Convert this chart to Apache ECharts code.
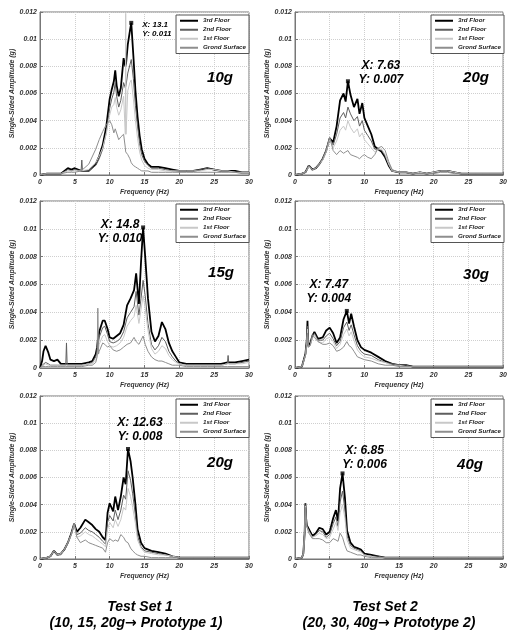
<!DOCTYPE html>
<html><head><meta charset="utf-8">
<script src="https://cdn.jsdelivr.net/npm/echarts@6/dist/echarts.min.js"></script>
<style>html,body{margin:0;padding:0;background:#fff}#c{width:510px;height:632px}</style>
</head><body><div id="c"></div>
<script>
// ---------- tick labels / categories ----------
const seriesNames = ['3rd Floor', '2nd Floor', '1st Floor', 'Grond Surface'];
const panelTitles = ['10g', '20g', '15g', '30g', '20g', '40g'];
const xTicks = [0, 5, 10, 15, 20, 25, 30];
const yTicks = [0, 0.002, 0.004, 0.006, 0.008, 0.01, 0.012];
const peakX = [13.1, 7.63, 14.8, 7.47, 12.63, 6.85];
const peakY = [0.0112, 0.0069, 0.0101, 0.0041, 0.0081, 0.0063];

// ---------- Panel A : Test Set 1, 10g ----------
const freqA = [0,1,2,3,4,4.5,5,5.9,6,6.1,7,8,8.5,9,9.5,10,10.3,10.6,10.8,11,11.3,11.6,12,12.25,12.3,12.35,12.6,12.9,13.1,13.4,13.7,14,14.3,14.6,15,15.5,16,17,18,19,20,21,22,23,24,25,26,27,28,29,30];
const thirdA = [0,0.0001,0.0001,0.0001,0.0005,0.0004,0.0005,0.0003,0.0004,0.0003,0.0003,0.0008,0.0014,0.0022,0.0035,0.0056,0.0063,0.0069,0.0077,0.0066,0.0058,0.0064,0.0086,0.0080,0.0079,0.0082,0.0096,0.0106,0.0112,0.0088,0.0062,0.0043,0.0029,0.0019,0.0012,0.0008,0.0006,0.0006,0.0005,0.0004,0.0003,0.0003,0.0003,0.0004,0.0005,0.0004,0.0003,0.0003,0.0003,0.0002,0.0002];
const secondA = [0,0.0001,0.0001,0.0001,0.0004,0.0003,0.0004,0.0003,0.0011,0.0003,0.0003,0.0007,0.0012,0.0019,0.0031,0.0049,0.0056,0.0061,0.0068,0.0058,0.0050,0.0055,0.0068,0.0064,0.0063,0.0066,0.0075,0.0081,0.0085,0.0071,0.0051,0.0036,0.0023,0.0015,0.0010,0.0007,0.0005,0.0005,0.0004,0.0003,0.0003,0.0003,0.0003,0.0004,0.0005,0.0004,0.0003,0.0003,0.0002,0.0002,0.0002];
const firstA = [0,0.0001,0.0001,0.0001,0.0003,0.0003,0.0003,0.0003,0.0003,0.0003,0.0004,0.0009,0.0014,0.0020,0.0030,0.0044,0.0050,0.0052,0.0057,0.0050,0.0044,0.0048,0.0058,0.0030,0.0119,0.0030,0.0062,0.0068,0.0070,0.0056,0.0040,0.0027,0.0017,0.0011,0.0007,0.0005,0.0004,0.0004,0.0003,0.0003,0.0003,0.0003,0.0003,0.0003,0.0004,0.0004,0.0003,0.0003,0.0002,0.0002,0.0002];
const groundA = [0,0.0001,0.0001,0.0001,0.0002,0.0002,0.0002,0.0003,0.0003,0.0004,0.0008,0.0019,0.0026,0.0032,0.0037,0.0040,0.0037,0.0031,0.0034,0.0033,0.0026,0.0028,0.0030,0.0020,0.0017,0.0017,0.0015,0.0012,0.0009,0.0007,0.0006,0.0005,0.0004,0.0003,0.0003,0.0003,0.0002,0.0002,0.0002,0.0002,0.0002,0.0002,0.0002,0.0002,0.0002,0.0002,0.0002,0.0002,0.0002,0.0001,0.0001];

// ---------- Panel B : Test Set 2, 20g ----------
const freqB = [0,1,1.5,2,2.5,3,3.5,4,4.5,5,5.5,6,6.5,7,7.3,7.63,8,8.5,9,9.3,9.7,10,10.5,11,11.5,12,12.5,13,13.5,14,15,16,17,18,19,20,21,22,23,24,25,26,27,28,29,30];
const thirdB = [0,0.0001,0.0002,0.0007,0.0004,0.0005,0.0008,0.0012,0.0018,0.0027,0.0024,0.0036,0.0055,0.0060,0.0054,0.0069,0.0059,0.0050,0.0056,0.0045,0.0053,0.0042,0.0036,0.0030,0.0021,0.0019,0.0017,0.0013,0.0007,0.0003,0.0002,0.0002,0.0001,0.0002,0.0001,0.0002,0.0003,0.0003,0.0002,0.0001,0.0001,0.0001,0.0001,0.0001,0.0001,0.0001];
const secondB = [0,0.0001,0.0002,0.0007,0.0004,0.0005,0.0008,0.0012,0.0018,0.0027,0.0022,0.0030,0.0042,0.0046,0.0042,0.0050,0.0045,0.0040,0.0043,0.0036,0.0040,0.0033,0.0029,0.0025,0.0019,0.0019,0.0018,0.0014,0.0008,0.0003,0.0002,0.0002,0.0001,0.0002,0.0001,0.0002,0.0003,0.0003,0.0002,0.0001,0.0001,0.0001,0.0001,0.0001,0.0001,0.0001];
const firstB = [0,0.0001,0.0002,0.0006,0.0004,0.0005,0.0008,0.0011,0.0017,0.0026,0.0020,0.0025,0.0033,0.0036,0.0033,0.0040,0.0035,0.0031,0.0034,0.0028,0.0031,0.0026,0.0023,0.0020,0.0017,0.0019,0.0019,0.0015,0.0008,0.0003,0.0002,0.0002,0.0001,0.0002,0.0001,0.0002,0.0003,0.0003,0.0002,0.0001,0.0001,0.0001,0.0001,0.0001,0.0001,0.0001];
const groundB = [0,0.0001,0.0002,0.0007,0.0004,0.0005,0.0008,0.0012,0.0018,0.0028,0.0018,0.0015,0.0018,0.0016,0.0017,0.0018,0.0015,0.0014,0.0013,0.0012,0.0014,0.0015,0.0013,0.0012,0.0015,0.0020,0.0021,0.0018,0.0010,0.0004,0.0002,0.0002,0.0001,0.0001,0.0001,0.0001,0.0002,0.0002,0.0001,0.0001,0.0001,0.0001,0.0001,0.0001,0.0001,0.0001];

// ---------- Panel C : Test Set 1, 15g ----------
const freqC = [0,0.3,0.5,0.8,1.2,1.5,2,2.5,3,3.7,3.8,3.9,5,6,7,7.5,8,8.2,8.3,8.4,8.5,9,9.3,9.7,10,10.5,11,11.5,12,12.5,13,13.5,13.8,14.2,14.5,14.8,15.1,15.5,16,16.5,17,17.5,18,18.5,19,19.5,20,21,22,23,24,25,26,26.9,27,27.1,28,29,30];
const thirdC = [0,0.0005,0.0012,0.0016,0.0011,0.0006,0.0005,0.0006,0.0003,0.0003,0.0004,0.0003,0.0003,0.0003,0.0004,0.0005,0.0010,0.0015,0.0020,0.0022,0.0026,0.0034,0.0034,0.0028,0.0022,0.0021,0.0023,0.0025,0.0031,0.0045,0.0050,0.0056,0.0068,0.0046,0.0076,0.0101,0.0080,0.0050,0.0026,0.0019,0.0023,0.0033,0.0028,0.0018,0.0012,0.0008,0.0004,0.0003,0.0003,0.0003,0.0003,0.0003,0.0003,0.0004,0.0004,0.0004,0.0004,0.0005,0.0006];
const secondC = [0,0.0002,0.0003,0.0004,0.0003,0.0002,0.0002,0.0002,0.0002,0.0002,0.0018,0.0002,0.0002,0.0002,0.0003,0.0004,0.0008,0.0012,0.0016,0.0018,0.0022,0.0029,0.0030,0.0024,0.0019,0.0018,0.0019,0.0021,0.0026,0.0036,0.0040,0.0044,0.0055,0.0038,0.0050,0.0063,0.0052,0.0032,0.0017,0.0013,0.0016,0.0022,0.0019,0.0012,0.0008,0.0005,0.0003,0.0002,0.0002,0.0002,0.0002,0.0002,0.0002,0.0003,0.0009,0.0003,0.0003,0.0004,0.0005];
const firstC = [0,0.0001,0.0002,0.0003,0.0002,0.0002,0.0002,0.0002,0.0002,0.0002,0.0003,0.0002,0.0002,0.0002,0.0003,0.0003,0.0006,0.0009,0.0012,0.0014,0.0017,0.0023,0.0024,0.0019,0.0016,0.0015,0.0016,0.0018,0.0022,0.0030,0.0034,0.0037,0.0045,0.0032,0.0042,0.0052,0.0043,0.0027,0.0014,0.0010,0.0012,0.0016,0.0014,0.0009,0.0006,0.0004,0.0003,0.0002,0.0002,0.0002,0.0002,0.0002,0.0002,0.0003,0.0003,0.0003,0.0003,0.0003,0.0004];
const groundC = [0,0.0001,0.0001,0.0001,0.0001,0.0001,0.0001,0.0001,0.0001,0.0001,0.0001,0.0001,0.0001,0.0001,0.0002,0.0002,0.0004,0.0008,0.0043,0.0010,0.0012,0.0018,0.0017,0.0015,0.0016,0.0013,0.0012,0.0013,0.0015,0.0017,0.0018,0.0022,0.0019,0.0017,0.0020,0.0023,0.0017,0.0012,0.0008,0.0006,0.0005,0.0005,0.0004,0.0003,0.0002,0.0002,0.0002,0.0001,0.0001,0.0001,0.0001,0.0001,0.0001,0.0001,0.0001,0.0001,0.0001,0.0001,0.0001];

// ---------- Panel D : Test Set 2, 30g ----------
const freqD = [0,1,1.5,1.7,1.8,1.9,2.2,2.5,2.8,3.3,4,4.5,5,5.5,6,6.5,7,7.47,7.8,8.1,8.5,9,9.5,10,11,12,13,14,15,16,17,18,19,20,22,24,26,28,30];
const thirdD = [0,0.0001,0.0010,0.0020,0.0034,0.0016,0.0018,0.0023,0.0026,0.0021,0.0022,0.0027,0.0029,0.0025,0.0018,0.0022,0.0035,0.0041,0.0032,0.0039,0.0030,0.0020,0.0015,0.0013,0.0011,0.0008,0.0005,0.0003,0.0002,0.0002,0.0001,0.0001,0.0001,0.0001,0.0001,0.0001,0.0001,0.0001,0.0001];
const secondD = [0,0.0001,0.0010,0.0019,0.0030,0.0015,0.0017,0.0022,0.0025,0.0020,0.0020,0.0023,0.0025,0.0021,0.0016,0.0019,0.0029,0.0033,0.0027,0.0031,0.0024,0.0016,0.0012,0.0010,0.0009,0.0006,0.0004,0.0003,0.0002,0.0002,0.0001,0.0001,0.0001,0.0001,0.0001,0.0001,0.0001,0.0001,0.0001];
const firstD = [0,0.0001,0.0009,0.0018,0.0028,0.0015,0.0016,0.0021,0.0024,0.0019,0.0018,0.0021,0.0022,0.0019,0.0014,0.0017,0.0024,0.0028,0.0023,0.0026,0.0020,0.0013,0.0010,0.0008,0.0007,0.0005,0.0004,0.0002,0.0002,0.0001,0.0001,0.0001,0.0001,0.0001,0.0001,0.0001,0.0001,0.0001,0.0001];
const groundD = [0,0.0001,0.0009,0.0017,0.0025,0.0015,0.0016,0.0024,0.0022,0.0019,0.0017,0.0017,0.0018,0.0016,0.0012,0.0013,0.0015,0.0019,0.0016,0.0015,0.0012,0.0008,0.0007,0.0006,0.0005,0.0003,0.0002,0.0002,0.0001,0.0001,0.0001,0.0001,0.0001,0.0001,0.0001,0.0001,0.0001,0.0001,0.0001];

// ---------- Panel E : Test Set 1, 20g ----------
const freqE = [0,1,1.5,2,2.5,3,3.5,4,4.5,4.9,5.3,5.8,6.5,7,7.5,8,8.5,9,9.4,9.7,10,10.5,10.8,11.2,11.6,12,12.3,12.63,13,13.3,13.7,14,14.5,15,16,17,18,19,20,22,24,26,28,30];
const thirdE = [0,0.0001,0.0002,0.0006,0.0003,0.0004,0.0007,0.0012,0.0019,0.0026,0.0020,0.0023,0.0029,0.0027,0.0025,0.0022,0.0020,0.0016,0.0014,0.0034,0.0041,0.0035,0.0046,0.0036,0.0046,0.0060,0.0055,0.0081,0.0072,0.0060,0.0040,0.0022,0.0012,0.0008,0.0006,0.0005,0.0004,0.0002,0.0001,0.0001,0.0001,0.0001,0.0001,0.0001];
const secondE = [0,0.0001,0.0002,0.0006,0.0003,0.0004,0.0007,0.0012,0.0019,0.0026,0.0018,0.0019,0.0023,0.0021,0.0020,0.0018,0.0016,0.0013,0.0011,0.0027,0.0032,0.0028,0.0036,0.0029,0.0036,0.0047,0.0044,0.0065,0.0058,0.0048,0.0032,0.0017,0.0009,0.0006,0.0005,0.0004,0.0003,0.0002,0.0001,0.0001,0.0001,0.0001,0.0001,0.0001];
const firstE = [0,0.0001,0.0002,0.0006,0.0003,0.0004,0.0007,0.0012,0.0018,0.0025,0.0016,0.0017,0.0020,0.0018,0.0017,0.0015,0.0013,0.0011,0.0009,0.0022,0.0027,0.0023,0.0029,0.0024,0.0029,0.0038,0.0036,0.0052,0.0046,0.0038,0.0026,0.0014,0.0008,0.0005,0.0004,0.0003,0.0003,0.0002,0.0001,0.0001,0.0001,0.0001,0.0001,0.0001];
const groundE = [0,0.0001,0.0002,0.0006,0.0003,0.0003,0.0007,0.0012,0.0018,0.0026,0.0016,0.0012,0.0014,0.0012,0.0011,0.0010,0.0009,0.0008,0.0005,0.0012,0.0015,0.0013,0.0014,0.0013,0.0018,0.0016,0.0013,0.0012,0.0008,0.0006,0.0004,0.0003,0.0002,0.0002,0.0001,0.0001,0.0001,0.0001,0.0001,0.0001,0.0001,0.0001,0.0001,0.0001];

// ---------- Panel F : Test Set 2, 40g ----------
const freqF = [0,1,1.2,1.4,1.5,1.6,1.7,2,2.5,3,3.5,4,4.5,5,5.5,5.9,6.2,6.5,6.85,7.2,7.5,8,8.5,9,9.5,10,11,12,13,14,16,18,20,22,24,26,28,30];
const thirdF = [0,0.0001,0.0004,0.0020,0.0041,0.0030,0.0025,0.0022,0.0017,0.0019,0.0023,0.0022,0.0018,0.0020,0.0030,0.0036,0.0028,0.0052,0.0063,0.0045,0.0021,0.0012,0.0009,0.0008,0.0007,0.0004,0.0003,0.0002,0.0001,0.0001,0.0001,0.0001,0.0001,0.0001,0.0001,0.0001,0.0001,0.0001];
const secondF = [0,0.0001,0.0004,0.0020,0.0040,0.0029,0.0024,0.0021,0.0016,0.0018,0.0021,0.0020,0.0016,0.0018,0.0026,0.0031,0.0024,0.0042,0.0050,0.0036,0.0017,0.0010,0.0008,0.0007,0.0006,0.0003,0.0002,0.0002,0.0001,0.0001,0.0001,0.0001,0.0001,0.0001,0.0001,0.0001,0.0001,0.0001];
const firstF = [0,0.0001,0.0004,0.0019,0.0039,0.0028,0.0024,0.0020,0.0016,0.0017,0.0019,0.0018,0.0015,0.0016,0.0022,0.0027,0.0021,0.0034,0.0040,0.0030,0.0014,0.0008,0.0007,0.0006,0.0005,0.0003,0.0002,0.0001,0.0001,0.0001,0.0001,0.0001,0.0001,0.0001,0.0001,0.0001,0.0001,0.0001];
const groundF = [0,0.0001,0.0004,0.0019,0.0038,0.0028,0.0024,0.0019,0.0015,0.0015,0.0015,0.0014,0.0012,0.0012,0.0015,0.0014,0.0013,0.0019,0.0016,0.0010,0.0006,0.0005,0.0004,0.0003,0.0003,0.0002,0.0001,0.0001,0.0001,0.0001,0.0001,0.0001,0.0001,0.0001,0.0001,0.0001,0.0001,0.0001];

// ---------- assembly ----------
const panels = [
  {freq: freqA, vals: [thirdA, secondA, firstA, groundA]},
  {freq: freqB, vals: [thirdB, secondB, firstB, groundB]},
  {freq: freqC, vals: [thirdC, secondC, firstC, groundC]},
  {freq: freqD, vals: [thirdD, secondD, firstD, groundD]},
  {freq: freqE, vals: [thirdE, secondE, firstE, groundE]},
  {freq: freqF, vals: [thirdF, secondF, firstF, groundF]}
];
panels.forEach((p, i) => p.vals.forEach((v, j) => {
  if (v.length !== p.freq.length) throw new Error('length mismatch panel ' + i + ' series ' + j + ': ' + v.length + ' vs ' + p.freq.length);
}));

const FONT = '"Liberation Sans", Arial, sans-serif';
const colors = ['#000000', '#5e5e5e', '#c8c8c8', '#8e8e8e'];
const widths = [1.8, 1, 1, 1];
const gridPos = [
  {left: 40, top: 12, width: 209, height: 163},
  {left: 295, top: 12, width: 209, height: 163},
  {left: 40, top: 201, width: 209, height: 167},
  {left: 295, top: 201, width: 209, height: 167},
  {left: 40, top: 396, width: 209, height: 163},
  {left: 295, top: 396, width: 209, height: 163}
];
const labelCfg = [
  {pos: [13, -1], align: 'left', size: 8, lh: 9},
  {pos: [35, -21], align: 'center', size: 12, lh: 14},
  {pos: [-21, -8], align: 'center', size: 12, lh: 14},
  {pos: [-16, -31], align: 'center', size: 12, lh: 14},
  {pos: [14, -31], align: 'center', size: 12, lh: 14},
  {pos: [24, -28], align: 'center', size: 12, lh: 14}
];
const titlePos = [[220, 78], [476, 78], [221, 273], [476, 275], [220, 463], [470, 465]];

const grid = [], xAxis = [], yAxis = [], series = [], legend = [], graphic = [];
const axisText = {fontFamily: FONT, fontSize: 7, fontStyle: 'italic', fontWeight: 'bold', color: '#333'};

gridPos.forEach((g, i) => {
  grid.push(Object.assign({show: true, borderColor: '#777', borderWidth: 1, backgroundColor: '#fff'}, g));
  xAxis.push({
    type: 'value', gridIndex: i, min: xTicks[0], max: xTicks[xTicks.length - 1], interval: xTicks[1] - xTicks[0],
    name: 'Frequency (Hz)', nameLocation: 'middle', nameGap: 14,
    nameTextStyle: Object.assign({}, axisText, {fontSize: 6.8}),
    axisLine: {lineStyle: {color: '#777'}},
    axisTick: {inside: true, length: 3, lineStyle: {color: '#777'}},
    axisLabel: Object.assign({margin: 4}, axisText),
    splitLine: {show: true, lineStyle: {color: '#cfcfcf', type: 'dotted'}}
  });
  yAxis.push({
    type: 'value', gridIndex: i, min: yTicks[0], max: yTicks[yTicks.length - 1], interval: yTicks[1] - yTicks[0],
    name: 'Single-Sided Amplitude (g)', nameLocation: 'middle', nameGap: 21, nameRotate: 90,
    nameTextStyle: Object.assign({}, axisText, {fontSize: 7}),
    axisLine: {show: true, lineStyle: {color: '#777'}},
    axisTick: {show: true, inside: true, length: 3, lineStyle: {color: '#777'}},
    axisLabel: Object.assign({margin: 3}, axisText),
    splitLine: {show: true, lineStyle: {color: '#cfcfcf', type: 'dotted'}}
  });
  const p = panels[i];
  p.vals.forEach((v, j) => {
    series.push({
      type: 'line', name: seriesNames[j], xAxisIndex: i, yAxisIndex: i,
      data: p.freq.map((f, k) => [f, v[k]]),
      symbol: 'none', showSymbol: false, color: colors[j],
      lineStyle: {color: colors[j], width: widths[j]},
      animation: false, z: 2 + j
    });
  });
  const lc = labelCfg[i];
  series.push({
    type: 'scatter', name: 'peak' + i, xAxisIndex: i, yAxisIndex: i,
    data: [[peakX[i], peakY[i]]], symbol: 'rect', symbolSize: 4,
    itemStyle: {color: '#000'}, z: 10, animation: false, silent: true,
    label: {
      show: true, position: lc.pos, align: lc.align, verticalAlign: 'top',
      fontFamily: FONT, fontStyle: 'italic', fontWeight: 'bold', fontSize: lc.size, lineHeight: lc.lh,
      color: '#000', textBorderWidth: 0, textBorderColor: 'transparent', textShadowBlur: 0, opacity: 1,
      formatter: d => 'X: ' + d.value[0] + '\nY: ' + d.value[1].toFixed(3)
    }
  });
  legend.push({
    data: seriesNames.map((n, j) => ({name: n, icon: 'rect', itemStyle: {color: colors[j]}})),
    orient: 'vertical',
    right: (i % 2 === 0) ? 261 : 6, top: g.top + 3,
    itemWidth: 18, itemHeight: 2, itemGap: 1.5, padding: [2, 3, 2, 4],
    borderColor: '#555', borderWidth: 1, backgroundColor: '#fff',
    textStyle: {fontFamily: FONT, fontSize: 6.2, fontStyle: 'italic', fontWeight: 'bold', color: '#222', lineHeight: 7.5},
    selectedMode: false
  });
  graphic.push({
    type: 'text', x: titlePos[i][0], y: titlePos[i][1], z: 100,
    style: {text: panelTitles[i], fontFamily: FONT, fontSize: 15, fontStyle: 'italic', fontWeight: 'bold',
            fill: '#000', align: 'center', verticalAlign: 'middle'}
  });
});

const arrowRich = {a: {fontFamily: '"DejaVu Sans", sans-serif', fontSize: 14, fontWeight: 'bold', fill: '#000'}};
const footer = [
  ['Test Set 1', 140, 607], ['(10, 15, 20g{a|\u2192} Prototype 1)', 136, 623],
  ['Test Set 2', 385, 607], ['(20, 30, 40g{a|\u2192} Prototype 2)', 389, 623]
];
footer.forEach(f => graphic.push({
  type: 'text', x: f[1], y: f[2],
  style: {text: f[0], fontFamily: FONT, fontSize: 14, fontStyle: 'italic', fontWeight: 'bold',
          fill: '#000', align: 'center', verticalAlign: 'middle', rich: arrowRich}
}));

const chart = echarts.init(document.getElementById('c'), null, {renderer: 'canvas'});
chart.setOption({backgroundColor: '#fff', animation: false, grid, xAxis, yAxis, series, legend, graphic});
</script></body></html>
